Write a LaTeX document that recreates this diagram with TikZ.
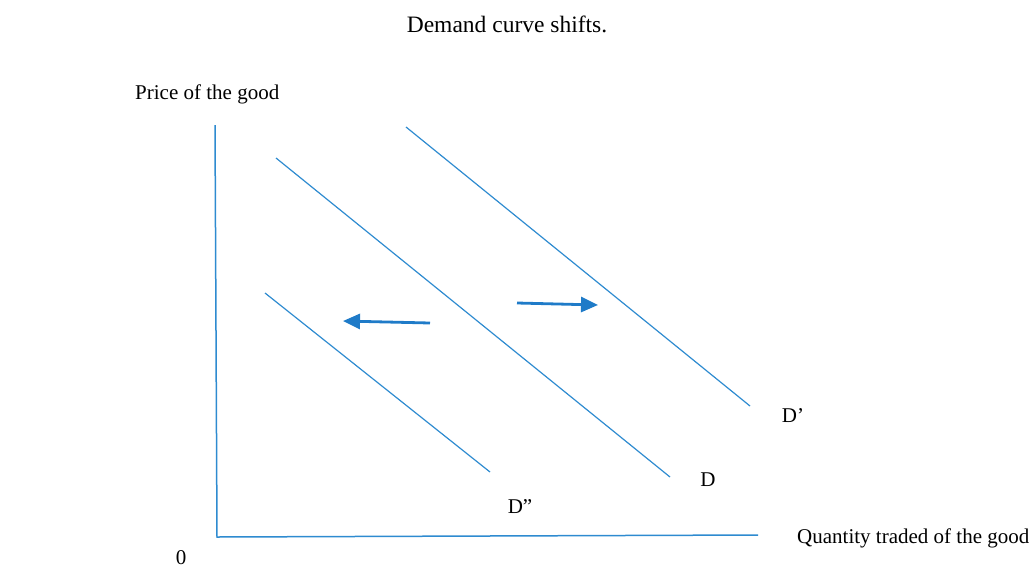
\documentclass[tikz,border=0pt]{standalone}
\usepackage{fontspec}
\setmainfont{Liberation Serif}
\usetikzlibrary{arrows.meta}
\definecolor{lineblue}{HTML}{2E8BD0}
\definecolor{arrowblue}{HTML}{1F7BC8}
\tikzset{
  curve/.style={draw=lineblue, line width=1.2pt},
  axis/.style={draw=lineblue, line width=1.5pt},
  shiftarrow/.style={draw=arrowblue, line width=2.8pt, -{Triangle[length=17pt,width=15pt]}},
  lbl/.style={inner sep=0pt, font=\fontsize{21}{25}\selectfont},
  titlelbl/.style={inner sep=0pt, font=\fontsize{23.5}{28}\selectfont}
}
\begin{document}
\begin{tikzpicture}[x=1pt,y=-1pt]
\useasboundingbox (0,0) rectangle (1033,568);
% labels
\node[titlelbl] (title) at (507,24) {Demand curve shifts.};
\node[lbl, anchor=west] (ylab) at (135,94) {Price of the good};
\node[lbl, anchor=west] (xlab) at (797,538) {Quantity traded of the good};
\node[lbl] (zero) at (181,558) {0};
\node[lbl] (Dp) at (793,416) {D’};
\node[lbl] (D) at (708,480) {D};
\node[lbl] (Dpp) at (520,507) {D”};
% axes
\coordinate (ytop) at (215,125);
\coordinate (origin) at (217,537);
\coordinate (xend) at (758,535);
\draw[axis] (ytop) -- (origin) -- (xend);
% demand curves
\coordinate (Dp1) at (406,127);
\coordinate (Dp2) at (750,406);
\coordinate (D1) at (276,158);
\coordinate (D2) at (670,477);
\coordinate (Dpp1) at (265,293);
\coordinate (Dpp2) at (490,472);
\draw[curve] (Dp1) -- (Dp2);
\draw[curve] (D1) -- (D2);
\draw[curve] (Dpp1) -- (Dpp2);
% shift arrows
\coordinate (r1) at (517,303);
\coordinate (r2) at (598,305);
\coordinate (l1) at (430,323);
\coordinate (l2) at (343,321);
\draw[shiftarrow] (r1) -- (r2);
\draw[shiftarrow] (l1) -- (l2);
\end{tikzpicture}
\end{document}
